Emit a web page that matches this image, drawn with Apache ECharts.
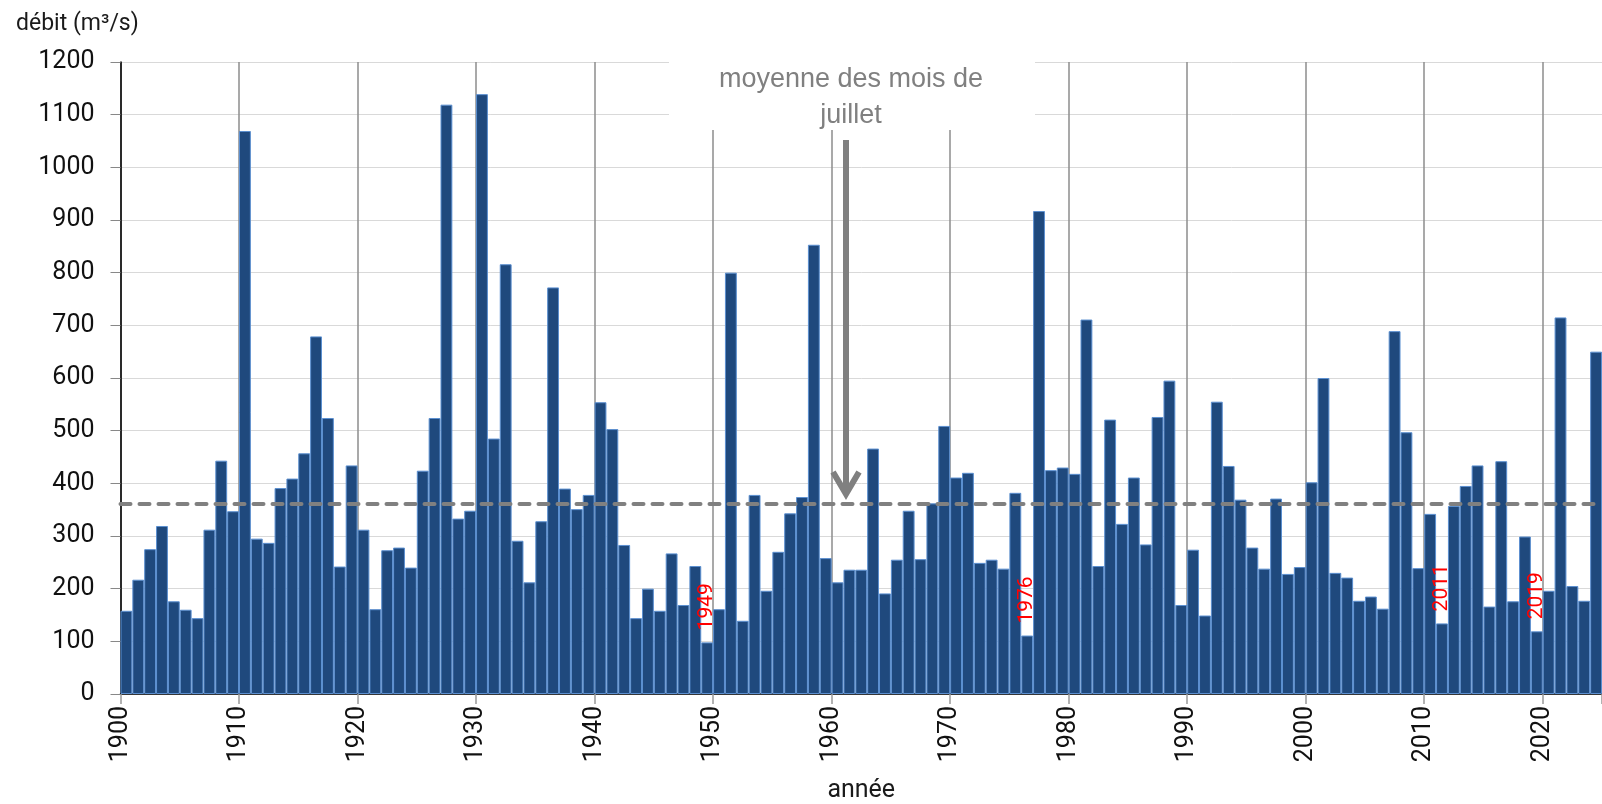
<!DOCTYPE html>
<html><head><meta charset="utf-8">
<script src="https://cdn.jsdelivr.net/npm/echarts@6/dist/echarts.min.js"></script>
<style>html,body{margin:0;padding:0;background:#fff}#c{width:1602px;height:804px}</style>
</head><body><div id="c"></div>
<script>
const NARROW = "Roboto, 'Liberation Sans', sans-serif";
const startYear = 1900;
const values = [
 158,217,275,319,176,160,144,312,443,347,
 1069,295,287,391,409,457,679,524,242,434,
 312,161,273,278,240,424,524,1119,333,348,
 1139,485,816,291,212,328,772,390,351,378,
 554,503,283,144,200,158,267,169,243,98,
 161,800,139,378,196,270,343,374,853,258,
 212,236,236,466,191,255,348,256,362,509,
 411,420,249,255,238,382,111,917,425,430,
 418,711,243,521,323,411,284,526,595,169,
 274,149,555,433,369,278,238,371,228,241,
 402,600,230,221,177,185,162,689,497,239,
 342,134,357,395,434,166,442,176,299,119,
 196,715,205,177,650
];
const years = values.map((v, i) => startYear + i);
const highlightYears = [1949, 1976, 2011, 2019];
const meanValue = 362;
const annotationText = 'moyenne des mois de\njuillet';

const data = years.map((y, i) => ({
  name: String(y),
  value: [y + 0.5, values[i]],
  label: { show: highlightYears.includes(y) }
}));

const chart = echarts.init(document.getElementById('c'));
chart.setOption({
  animation: false,
  backgroundColor: '#fff',
  title: {
    text: 'débit (m³/s)', left: 11, top: 8,
    textStyle: { fontSize: 23, fontWeight: 'normal', fontFamily: NARROW, color: '#1a1a1a' }
  },
  grid: { left: 120.5, right: 0, top: 62, bottom: 110, containLabel: false, outerBoundsMode: 'none' },
  xAxis: {
    type: 'value', min: 1900, max: 2025, interval: 10,
    name: 'année', nameLocation: 'middle', nameGap: 84,
    nameTextStyle: { fontSize: 25, fontFamily: NARROW, color: '#1a1a1a' },
    axisLine: { show: true, lineStyle: { color: '#000', width: 1.5 } },
    axisTick: { show: true, length: 10, lineStyle: { color: '#999', width: 1.5 } },
    axisLabel: { rotate: 90, fontSize: 25, fontFamily: NARROW, color: '#111', margin: 12,
      formatter: v => (v > 2020 ? '' : String(v)) },
    splitLine: { show: true, showMaxLine: false, lineStyle: { color: '#8c8c8c', width: 1.5 } }
  },
  yAxis: {
    type: 'value', min: 0, max: 1200, interval: 100,
    axisLine: { show: true, lineStyle: { color: '#000', width: 1.5 } },
    axisTick: { show: true, length: 10, lineStyle: { color: '#888' } },
    axisLabel: { fontSize: 25, fontFamily: NARROW, color: '#111', margin: 26, formatter: v => String(v) },
    splitLine: { show: true, lineStyle: { color: '#d9d9d9', width: 1 } }
  },
  series: [{
    type: 'bar',
    data: data,
    barCategoryGap: '0%',
    itemStyle: { color: '#1f497d', borderColor: '#5b8fd0', borderWidth: 1 },
    label: {
      show: false, position: 'top', distance: 12, rotate: 90, align: 'left', verticalAlign: 'middle',
      formatter: '{b}', color: '#ff0000', fontSize: 21, fontFamily: NARROW
    },
    markLine: {
      silent: true, symbol: ['none', 'none'], label: { show: false },
      lineStyle: { type: [10, 9], width: 4, color: '#808080', cap: 'round' },
      data: [{ yAxis: meanValue }]
    }
  }],
  graphic: [
    { type: 'rect', z: 100, shape: { x: 669, y: 55, width: 366, height: 75 }, style: { fill: '#fff' } },
    { type: 'text', z: 101, x: 851, y: 62, style: { text: annotationText, fill: '#808080', fontSize: 27,
      fontFamily: "'Liberation Sans',Arial,sans-serif", align: 'center', lineHeight: 36 } },
    { type: 'line', z: 101, shape: { x1: 846, y1: 140, x2: 846, y2: 494 }, style: { stroke: '#808080', lineWidth: 6 } },
    { type: 'polyline', z: 101, shape: { points: [[833, 472], [846, 494], [859, 472]] },
      style: { stroke: '#808080', lineWidth: 6, fill: null, lineJoin: 'miter' } }
  ]
});
</script></body></html>
